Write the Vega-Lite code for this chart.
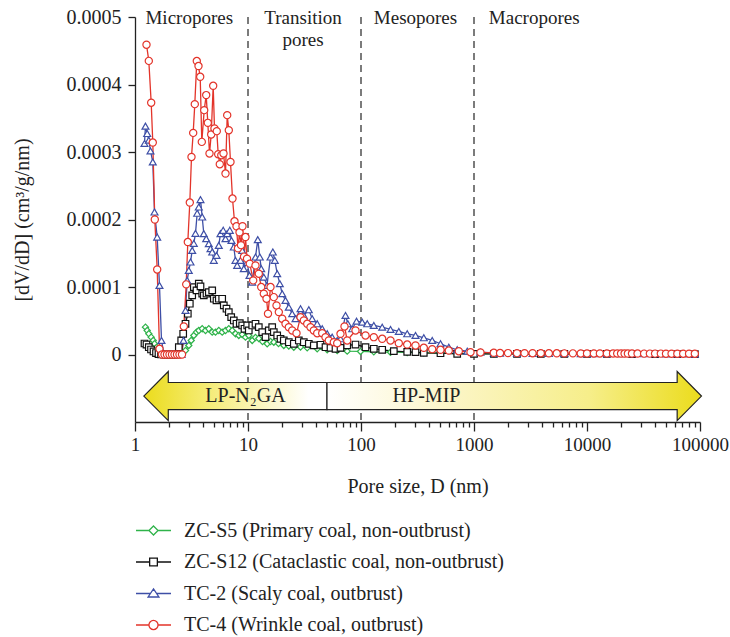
{
 "$schema": "https://vega.github.io/schema/vega-lite/v6.json",
 "width": 565,
 "height": 405,
 "autosize": {"type": "none"},
 "padding": {"left": 135, "top": 17, "right": 30, "bottom": 215},
 "background": "white",
 "config": {
  "view": {"stroke": null},
  "font": "Liberation Serif",
  "axis": {"domainColor": "#222", "tickColor": "#222", "labelColor": "#222", "titleColor": "#222", "labelFontSize": 19, "titleFontSize": 20, "titleFontWeight": "normal", "grid": false, "domainWidth": 1.3, "tickWidth": 1.3, "labelFont": "Liberation Serif", "titleFont": "Liberation Serif"},
  "text": {"font": "Liberation Serif", "color": "#222"}
 },
 "datasets": {
  "bounds": [{"D": 10}, {"D": 100}, {"D": 1000}],
  "arrowL": [
   {"D": 1.197, "v": -0.0000616, "v2": -0.0000616},
   {"D": 1.97, "v": -0.0000252, "v2": -0.0000979},
   {"D": 1.971, "v": -0.0000415, "v2": -0.0000816},
   {"D": 50, "v": -0.0000415, "v2": -0.0000816}
  ],
  "arrowR": [
   {"D": 50, "v": -0.0000415, "v2": -0.0000816},
   {"D": 62800, "v": -0.0000415, "v2": -0.0000816},
   {"D": 62810, "v": -0.0000252, "v2": -0.0000979},
   {"D": 103000, "v": -0.0000616, "v2": -0.0000616}
  ],
  "arrowText": [
   {"t": "LP-N₂GA", "D": 9.5, "v": -0.0000616},
   {"t": "HP-MIP", "D": 380, "v": -0.0000616}
  ],
  "regionsLeft": [
   {"t": "Micropores", "D": 1.238, "v": 0.00049},
   {"t": "Mesopores", "D": 129.8, "v": 0.00049},
   {"t": "Macropores", "D": 1352, "v": 0.00049}
  ],
  "regionsCenter": [
   {"t": "Transition\npores", "D": 30.7, "v": 0.00049}
  ],
  "curves": [
   {"s":"ZC-S5","D":1.238,"v":0.0000405},{"s":"ZC-S5","D":1.282,"v":0.0000356},{"s":"ZC-S5","D":1.325,"v":0.0000307},{"s":"ZC-S5","D":1.391,"v":0.0000257},{"s":"ZC-S5","D":1.449,"v":0.0000208},{"s":"ZC-S5","D":1.488,"v":0.0000159},{"s":"ZC-S5","D":1.55,"v":0.0000104},{"s":"ZC-S5","D":1.614,"v":0.0000059},{"s":"ZC-S5","D":1.682,"v":0.0000022},{"s":"ZC-S5","D":1.75,"v":0},{"s":"ZC-S5","D":1.82,"v":0},{"s":"ZC-S5","D":1.9,"v":0},{"s":"ZC-S5","D":1.98,"v":0},{"s":"ZC-S5","D":2.06,"v":0},{"s":"ZC-S5","D":2.15,"v":0},{"s":"ZC-S5","D":2.24,"v":0},{"s":"ZC-S5","D":2.33,"v":0},{"s":"ZC-S5","D":2.43,"v":0},{"s":"ZC-S5","D":2.52,"v":0},{"s":"ZC-S5","D":2.617,"v":0.000001},{"s":"ZC-S5","D":2.799,"v":0.0000059},{"s":"ZC-S5","D":2.993,"v":0.0000134},{"s":"ZC-S5","D":3.144,"v":0.0000208},{"s":"ZC-S5","D":3.315,"v":0.0000282},{"s":"ZC-S5","D":3.502,"v":0.0000331},{"s":"ZC-S5","D":3.669,"v":0.0000356},{"s":"ZC-S5","D":3.933,"v":0.0000381},{"s":"ZC-S5","D":4.206,"v":0.0000356},{"s":"ZC-S5","D":4.499,"v":0.0000381},{"s":"ZC-S5","D":4.822,"v":0.0000331},{"s":"ZC-S5","D":5.156,"v":0.0000331},{"s":"ZC-S5","D":5.515,"v":0.0000356},{"s":"ZC-S5","D":5.91,"v":0.0000331},{"s":"ZC-S5","D":6.323,"v":0.0000356},{"s":"ZC-S5","D":6.763,"v":0.0000381},{"s":"ZC-S5","D":7.247,"v":0.0000356},{"s":"ZC-S5","D":7.751,"v":0.0000307},{"s":"ZC-S5","D":8.289,"v":0.0000282},{"s":"ZC-S5","D":8.885,"v":0.0000297},{"s":"ZC-S5","D":9.5,"v":0.0000257},{"s":"ZC-S5","D":10.16,"v":0.0000282},{"s":"ZC-S5","D":10.9,"v":0.0000208},{"s":"ZC-S5","D":11.65,"v":0.0000252},{"s":"ZC-S5","D":12.46,"v":0.0000237},{"s":"ZC-S5","D":13.44,"v":0.0000193},{"s":"ZC-S5","D":14.79,"v":0.0000159},{"s":"ZC-S5","D":15.82,"v":0.0000193},{"s":"ZC-S5","D":16.92,"v":0.0000182},{"s":"ZC-S5","D":18.62,"v":0.0000163},{"s":"ZC-S5","D":20.74,"v":0.0000134},{"s":"ZC-S5","D":22.97,"v":0.0000126},{"s":"ZC-S5","D":25.43,"v":0.0000108},{"s":"ZC-S5","D":29.15,"v":0.0000111},{"s":"ZC-S5","D":33.41,"v":0.0000099},{"s":"ZC-S5","D":40.96,"v":0.0000085},{"s":"ZC-S5","D":50.22,"v":0.000007},{"s":"ZC-S5","D":61.58,"v":0.0000059},{"s":"ZC-S5","D":75.49,"v":0.0000049},{"s":"ZC-S5","D":99,"v":0.0000045},{"s":"ZC-S5","D":129.8,"v":0.000004},{"s":"ZC-S5","D":182.4,"v":0.0000034},{"s":"ZC-S5","D":256.4,"v":0.000003},{"s":"ZC-S5","D":359.5,"v":0.0000025},{"s":"ZC-S5","D":505.2,"v":0.000002},{"s":"ZC-S5","D":710,"v":0.0000015},{"s":"ZC-S5","D":1000,"v":0.0000012},{"s":"ZC-S5","D":1500,"v":0.000001},{"s":"ZC-S5","D":2400,"v":0.000001},{"s":"ZC-S5","D":3900,"v":0.0000009},{"s":"ZC-S5","D":6300,"v":0.0000009},{"s":"ZC-S5","D":10000,"v":0.0000008},{"s":"ZC-S5","D":15000,"v":0.0000008},{"s":"ZC-S5","D":25000,"v":0.0000008},{"s":"ZC-S5","D":40000,"v":0.0000007},{"s":"ZC-S5","D":63000,"v":0.0000007},{"s":"ZC-S5","D":90000,"v":0.0000007},
   {"s":"ZC-S12","D":1.213,"v":0.0000163},{"s":"ZC-S12","D":1.264,"v":0.0000148},{"s":"ZC-S12","D":1.325,"v":0.0000108},{"s":"ZC-S12","D":1.386,"v":0.0000074},{"s":"ZC-S12","D":1.458,"v":0.0000045},{"s":"ZC-S12","D":1.534,"v":0.0000022},{"s":"ZC-S12","D":1.614,"v":0.0000007},{"s":"ZC-S12","D":1.7,"v":0},{"s":"ZC-S12","D":1.8,"v":0},{"s":"ZC-S12","D":1.9,"v":0},{"s":"ZC-S12","D":2.0,"v":0},{"s":"ZC-S12","D":2.1,"v":0},{"s":"ZC-S12","D":2.2,"v":0},{"s":"ZC-S12","D":2.33,"v":0},{"s":"ZC-S12","D":2.442,"v":0.0000108},{"s":"ZC-S12","D":2.564,"v":0.0000208},{"s":"ZC-S12","D":2.67,"v":0.0000307},{"s":"ZC-S12","D":2.799,"v":0.0000455},{"s":"ZC-S12","D":2.933,"v":0.0000604},{"s":"ZC-S12","D":3.055,"v":0.0000752},{"s":"ZC-S12","D":3.208,"v":0.0000875},{"s":"ZC-S12","D":3.315,"v":0.0000999},{"s":"ZC-S12","D":3.502,"v":0.000095},{"s":"ZC-S12","D":3.669,"v":0.0001049},{"s":"ZC-S12","D":3.799,"v":0.0001009},{"s":"ZC-S12","D":3.933,"v":0.0000901},{"s":"ZC-S12","D":4.062,"v":0.0000875},{"s":"ZC-S12","D":4.293,"v":0.0000901},{"s":"ZC-S12","D":4.499,"v":0.0000924},{"s":"ZC-S12","D":4.822,"v":0.000095},{"s":"ZC-S12","D":4.982,"v":0.0000826},{"s":"ZC-S12","D":5.262,"v":0.0000801},{"s":"ZC-S12","D":5.515,"v":0.0000826},{"s":"ZC-S12","D":5.91,"v":0.0000826},{"s":"ZC-S12","D":6.106,"v":0.0000727},{"s":"ZC-S12","D":6.451,"v":0.0000678},{"s":"ZC-S12","D":6.763,"v":0.0000628},{"s":"ZC-S12","D":7.101,"v":0.0000553},{"s":"ZC-S12","D":7.487,"v":0.0000504},{"s":"ZC-S12","D":7.91,"v":0.0000455},{"s":"ZC-S12","D":8.461,"v":0.0000464},{"s":"ZC-S12","D":8.885,"v":0.000043},{"s":"ZC-S12","D":9.311,"v":0.0000381},{"s":"ZC-S12","D":9.838,"v":0.000043},{"s":"ZC-S12","D":10.16,"v":0.0000356},{"s":"ZC-S12","D":10.9,"v":0.000043},{"s":"ZC-S12","D":11.65,"v":0.0000455},{"s":"ZC-S12","D":12.46,"v":0.0000405},{"s":"ZC-S12","D":13.36,"v":0.0000331},{"s":"ZC-S12","D":14.29,"v":0.0000257},{"s":"ZC-S12","D":15.28,"v":0.0000356},{"s":"ZC-S12","D":16.37,"v":0.0000405},{"s":"ZC-S12","D":16.92,"v":0.0000331},{"s":"ZC-S12","D":18.13,"v":0.0000282},{"s":"ZC-S12","D":19.4,"v":0.0000233},{"s":"ZC-S12","D":20.74,"v":0.0000208},{"s":"ZC-S12","D":22.97,"v":0.0000182},{"s":"ZC-S12","D":25.43,"v":0.0000159},{"s":"ZC-S12","D":28.16,"v":0.0000208},{"s":"ZC-S12","D":31.18,"v":0.0000182},{"s":"ZC-S12","D":34.52,"v":0.0000159},{"s":"ZC-S12","D":38.22,"v":0.0000134},{"s":"ZC-S12","D":43.81,"v":0.0000144},{"s":"ZC-S12","D":48.51,"v":0.0000108},{"s":"ZC-S12","D":53.71,"v":0.0000099},{"s":"ZC-S12","D":59.47,"v":0.0000085},{"s":"ZC-S12","D":65.86,"v":0.0000099},{"s":"ZC-S12","D":75.49,"v":0.0000134},{"s":"ZC-S12","D":89.4,"v":0.0000148},{"s":"ZC-S12","D":109.6,"v":0.0000108},{"s":"ZC-S12","D":129.8,"v":0.0000085},{"s":"ZC-S12","D":154,"v":0.000007},{"s":"ZC-S12","D":195.2,"v":0.0000049},{"s":"ZC-S12","D":256.4,"v":0.000004},{"s":"ZC-S12","D":303.6,"v":0.0000034},{"s":"ZC-S12","D":359.5,"v":0.0000025},{"s":"ZC-S12","D":505.2,"v":0.0000019},{"s":"ZC-S12","D":710,"v":0.000001},{"s":"ZC-S12","D":1000,"v":0.000001},{"s":"ZC-S12","D":1500,"v":0.0000009},{"s":"ZC-S12","D":2400,"v":0.0000009},{"s":"ZC-S12","D":3900,"v":0.0000008},{"s":"ZC-S12","D":6300,"v":0.0000008},{"s":"ZC-S12","D":10000,"v":0.0000008},{"s":"ZC-S12","D":15000,"v":0.0000008},{"s":"ZC-S12","D":25000,"v":0.0000007},{"s":"ZC-S12","D":40000,"v":0.0000007},{"s":"ZC-S12","D":63000,"v":0.0000007},{"s":"ZC-S12","D":90000,"v":0.0000007},
   {"s":"TC-2","D":1.213,"v":0.0003126},{"s":"TC-2","D":1.238,"v":0.0003383},{"s":"TC-2","D":1.282,"v":0.0003274},{"s":"TC-2","D":1.325,"v":0.0003175},{"s":"TC-2","D":1.371,"v":0.0003016},{"s":"TC-2","D":1.437,"v":0.0002853},{"s":"TC-2","D":1.488,"v":0.0002111},{"s":"TC-2","D":1.572,"v":0.000174},{"s":"TC-2","D":1.647,"v":0.0001024},{"s":"TC-2","D":1.716,"v":0.0000208},{"s":"TC-2","D":1.805,"v":0},{"s":"TC-2","D":1.9,"v":0},{"s":"TC-2","D":2.0,"v":0},{"s":"TC-2","D":2.103,"v":0},{"s":"TC-2","D":2.214,"v":0},{"s":"TC-2","D":2.33,"v":0},{"s":"TC-2","D":2.452,"v":0},{"s":"TC-2","D":2.58,"v":0},{"s":"TC-2","D":2.687,"v":0.0000208},{"s":"TC-2","D":2.799,"v":0.0000653},{"s":"TC-2","D":2.897,"v":0.0001098},{"s":"TC-2","D":2.993,"v":0.0001246},{"s":"TC-2","D":3.099,"v":0.000137},{"s":"TC-2","D":3.208,"v":0.0001543},{"s":"TC-2","D":3.315,"v":0.0001647},{"s":"TC-2","D":3.43,"v":0.0001795},{"s":"TC-2","D":3.551,"v":0.0002092},{"s":"TC-2","D":3.669,"v":0.0002185},{"s":"TC-2","D":3.799,"v":0.0002295},{"s":"TC-2","D":3.933,"v":0.0002037},{"s":"TC-2","D":4.062,"v":0.0001791},{"s":"TC-2","D":4.267,"v":0.0001717},{"s":"TC-2","D":4.499,"v":0.0001642},{"s":"TC-2","D":4.657,"v":0.0001568},{"s":"TC-2","D":4.822,"v":0.0001518},{"s":"TC-2","D":4.982,"v":0.0001395},{"s":"TC-2","D":5.262,"v":0.0001469},{"s":"TC-2","D":5.515,"v":0.0001617},{"s":"TC-2","D":5.709,"v":0.0001791},{"s":"TC-2","D":6.033,"v":0.000184},{"s":"TC-2","D":6.323,"v":0.0001717},{"s":"TC-2","D":6.546,"v":0.0001791},{"s":"TC-2","D":6.9,"v":0.000184},{"s":"TC-2","D":7.145,"v":0.0001691},{"s":"TC-2","D":7.487,"v":0.0001592},{"s":"TC-2","D":7.751,"v":0.0001395},{"s":"TC-2","D":8.024,"v":0.000132},{"s":"TC-2","D":8.582,"v":0.0001395},{"s":"TC-2","D":8.885,"v":0.0001543},{"s":"TC-2","D":9.18,"v":0.0001272},{"s":"TC-2","D":9.8,"v":0.0001365},{"s":"TC-2","D":10.31,"v":0.0001172},{"s":"TC-2","D":10.9,"v":0.0001073},{"s":"TC-2","D":11.65,"v":0.0001444},{"s":"TC-2","D":12.21,"v":0.0001702},{"s":"TC-2","D":12.72,"v":0.0001444},{"s":"TC-2","D":13.09,"v":0.0001272},{"s":"TC-2","D":13.8,"v":0.0001147},{"s":"TC-2","D":14.73,"v":0.0001024},{"s":"TC-2","D":15.82,"v":0.0001444},{"s":"TC-2","D":16.58,"v":0.0001518},{"s":"TC-2","D":17.27,"v":0.0001395},{"s":"TC-2","D":18.13,"v":0.0001197},{"s":"TC-2","D":19.12,"v":0.0001049},{"s":"TC-2","D":20.08,"v":0.0000901},{"s":"TC-2","D":21.47,"v":0.0000801},{"s":"TC-2","D":22.97,"v":0.0000702},{"s":"TC-2","D":24.61,"v":0.0000604},{"s":"TC-2","D":26.33,"v":0.000053},{"s":"TC-2","D":29.15,"v":0.0000678},{"s":"TC-2","D":31.18,"v":0.0000579},{"s":"TC-2","D":34.52,"v":0.0000663},{"s":"TC-2","D":36.99,"v":0.000053},{"s":"TC-2","D":40.96,"v":0.0000455},{"s":"TC-2","D":45.36,"v":0.0000381},{"s":"TC-2","D":50.22,"v":0.0000307},{"s":"TC-2","D":55.62,"v":0.0000257},{"s":"TC-2","D":61.58,"v":0.0000208},{"s":"TC-2","D":65.86,"v":0.0000233},{"s":"TC-2","D":72.92,"v":0.0000579},{"s":"TC-2","D":76.42,"v":0.0000455},{"s":"TC-2","D":83.59,"v":0.0000381},{"s":"TC-2","D":91.26,"v":0.0000494},{"s":"TC-2","D":102.5,"v":0.0000479},{"s":"TC-2","D":113.5,"v":0.0000455},{"s":"TC-2","D":129.8,"v":0.000043},{"s":"TC-2","D":154,"v":0.0000405},{"s":"TC-2","D":182.4,"v":0.0000371},{"s":"TC-2","D":216,"v":0.0000341},{"s":"TC-2","D":256.4,"v":0.0000307},{"s":"TC-2","D":303.6,"v":0.0000282},{"s":"TC-2","D":359.5,"v":0.0000248},{"s":"TC-2","D":426.7,"v":0.0000208},{"s":"TC-2","D":505.2,"v":0.0000159},{"s":"TC-2","D":598.4,"v":0.0000108},{"s":"TC-2","D":710.1,"v":0.000007},{"s":"TC-2","D":870.9,"v":0.0000049},{"s":"TC-2","D":1141,"v":0.0000034},{"s":"TC-2","D":1497,"v":0.0000025},{"s":"TC-2","D":1700,"v":0.000002},{"s":"TC-2","D":2400,"v":0.0000018},{"s":"TC-2","D":3300,"v":0.0000017},{"s":"TC-2","D":4600,"v":0.0000016},{"s":"TC-2","D":6300,"v":0.0000015},{"s":"TC-2","D":8800,"v":0.0000014},{"s":"TC-2","D":11500,"v":0.0000013},{"s":"TC-2","D":15000,"v":0.0000013},{"s":"TC-2","D":20000,"v":0.0000012},{"s":"TC-2","D":25000,"v":0.0000012},{"s":"TC-2","D":32000,"v":0.0000011},{"s":"TC-2","D":40000,"v":0.0000011},{"s":"TC-2","D":50000,"v":0.000001},{"s":"TC-2","D":63000,"v":0.000001},{"s":"TC-2","D":80000,"v":0.000001},{"s":"TC-2","D":90000,"v":0.000001},
   {"s":"TC-4","D":1.264,"v":0.000459},{"s":"TC-4","D":1.325,"v":0.000435},{"s":"TC-4","D":1.391,"v":0.000373},{"s":"TC-4","D":1.437,"v":0.000314},{"s":"TC-4","D":1.497,"v":0.0002},{"s":"TC-4","D":1.572,"v":0.000126},{"s":"TC-4","D":1.647,"v":0.0000085},{"s":"TC-4","D":1.734,"v":0},{"s":"TC-4","D":1.824,"v":0},{"s":"TC-4","D":1.919,"v":0},{"s":"TC-4","D":2.02,"v":0},{"s":"TC-4","D":2.125,"v":0},{"s":"TC-4","D":2.237,"v":0},{"s":"TC-4","D":2.353,"v":0},{"s":"TC-4","D":2.476,"v":0},{"s":"TC-4","D":2.606,"v":0},{"s":"TC-4","D":2.704,"v":0.0000415},{"s":"TC-4","D":2.839,"v":0.0001039},{"s":"TC-4","D":2.933,"v":0.0001666},{"s":"TC-4","D":3.055,"v":0.0002251},{"s":"TC-4","D":3.162,"v":0.0002927},{"s":"TC-4","D":3.273,"v":0.0003283},{"s":"TC-4","D":3.382,"v":0.0003709},{"s":"TC-4","D":3.523,"v":0.0004347},{"s":"TC-4","D":3.647,"v":0.0004273},{"s":"TC-4","D":3.776,"v":0.0004114},{"s":"TC-4","D":3.901,"v":0.000315},{"s":"TC-4","D":4.097,"v":0.000362},{"s":"TC-4","D":4.267,"v":0.0003843},{"s":"TC-4","D":4.409,"v":0.0003432},{"s":"TC-4","D":4.564,"v":0.0002978},{"s":"TC-4","D":4.725,"v":0.000326},{"s":"TC-4","D":4.92,"v":0.0003981},{"s":"TC-4","D":5.052,"v":0.0003349},{"s":"TC-4","D":5.294,"v":0.0003309},{"s":"TC-4","D":5.448,"v":0.0002967},{"s":"TC-4","D":5.628,"v":0.0002819},{"s":"TC-4","D":5.8,"v":0.0002953},{"s":"TC-4","D":6.07,"v":0.0002978},{"s":"TC-4","D":6.323,"v":0.0002681},{"s":"TC-4","D":6.546,"v":0.0003546},{"s":"TC-4","D":6.763,"v":0.0003323},{"s":"TC-4","D":7.0,"v":0.0002853},{"s":"TC-4","D":7.291,"v":0.000231},{"s":"TC-4","D":7.594,"v":0.0001973},{"s":"TC-4","D":7.91,"v":0.0001899},{"s":"TC-4","D":8.154,"v":0.0001573},{"s":"TC-4","D":8.41,"v":0.000181},{"s":"TC-4","D":8.67,"v":0.000162},{"s":"TC-4","D":8.94,"v":0.00019},{"s":"TC-4","D":9.22,"v":0.000145},{"s":"TC-4","D":9.5,"v":0.000174},{"s":"TC-4","D":9.8,"v":0.000142},{"s":"TC-4","D":10.37,"v":0.0001346},{"s":"TC-4","D":11.12,"v":0.0001098},{"s":"TC-4","D":11.65,"v":0.000132},{"s":"TC-4","D":12.46,"v":0.0001197},{"s":"TC-4","D":13.09,"v":0.0000999},{"s":"TC-4","D":13.8,"v":0.0000901},{"s":"TC-4","D":14.58,"v":0.0000826},{"s":"TC-4","D":15.03,"v":0.0000604},{"s":"TC-4","D":15.82,"v":0.0000999},{"s":"TC-4","D":16.92,"v":0.000085},{"s":"TC-4","D":17.88,"v":0.0000727},{"s":"TC-4","D":18.74,"v":0.0000628},{"s":"TC-4","D":20.08,"v":0.000053},{"s":"TC-4","D":21.47,"v":0.0000455},{"s":"TC-4","D":22.97,"v":0.0000405},{"s":"TC-4","D":24.61,"v":0.0000356},{"s":"TC-4","D":26.87,"v":0.0000316},{"s":"TC-4","D":29.15,"v":0.0000553},{"s":"TC-4","D":31.18,"v":0.0000504},{"s":"TC-4","D":33.41,"v":0.0000455},{"s":"TC-4","D":35.73,"v":0.0000405},{"s":"TC-4","D":38.22,"v":0.0000356},{"s":"TC-4","D":40.96,"v":0.0000316},{"s":"TC-4","D":45.36,"v":0.0000316},{"s":"TC-4","D":48.51,"v":0.0000257},{"s":"TC-4","D":51.88,"v":0.0000208},{"s":"TC-4","D":57.45,"v":0.0000182},{"s":"TC-4","D":61.58,"v":0.0000168},{"s":"TC-4","D":65.86,"v":0.0000307},{"s":"TC-4","D":71.45,"v":0.0000415},{"s":"TC-4","D":75.49,"v":0.0000208},{"s":"TC-4","D":89.4,"v":0.0000356},{"s":"TC-4","D":109.6,"v":0.0000282},{"s":"TC-4","D":129.8,"v":0.0000257},{"s":"TC-4","D":154,"v":0.0000233},{"s":"TC-4","D":182.4,"v":0.0000208},{"s":"TC-4","D":216,"v":0.0000168},{"s":"TC-4","D":256.4,"v":0.0000148},{"s":"TC-4","D":303.6,"v":0.0000134},{"s":"TC-4","D":359.5,"v":0.0000099},{"s":"TC-4","D":426.7,"v":0.0000079},{"s":"TC-4","D":505.2,"v":0.000007},{"s":"TC-4","D":598.4,"v":0.0000059},{"s":"TC-4","D":733.8,"v":0.0000049},{"s":"TC-4","D":931,"v":0.0000034},{"s":"TC-4","D":1141,"v":0.000003},{"s":"TC-4","D":1497,"v":0.0000025},{"s":"TC-4","D":1700,"v":0.0000022},{"s":"TC-4","D":2000,"v":0.0000021},{"s":"TC-4","D":2400,"v":0.000002},{"s":"TC-4","D":2800,"v":0.000002},{"s":"TC-4","D":3300,"v":0.0000019},{"s":"TC-4","D":3900,"v":0.0000019},{"s":"TC-4","D":4600,"v":0.0000018},{"s":"TC-4","D":5400,"v":0.0000018},{"s":"TC-4","D":6300,"v":0.0000017},{"s":"TC-4","D":7500,"v":0.0000017},{"s":"TC-4","D":8800,"v":0.0000016},{"s":"TC-4","D":10000,"v":0.0000016},{"s":"TC-4","D":11500,"v":0.0000016},{"s":"TC-4","D":13000,"v":0.0000015},{"s":"TC-4","D":15000,"v":0.0000015},{"s":"TC-4","D":17000,"v":0.0000015},{"s":"TC-4","D":18500,"v":0.0000015},{"s":"TC-4","D":20000,"v":0.0000014},{"s":"TC-4","D":21500,"v":0.0000014},{"s":"TC-4","D":23000,"v":0.0000014},{"s":"TC-4","D":25000,"v":0.0000014},{"s":"TC-4","D":28000,"v":0.0000014},{"s":"TC-4","D":32000,"v":0.0000013},{"s":"TC-4","D":36000,"v":0.0000013},{"s":"TC-4","D":40000,"v":0.0000013},{"s":"TC-4","D":45000,"v":0.0000013},{"s":"TC-4","D":50000,"v":0.0000012},{"s":"TC-4","D":56000,"v":0.0000012},{"s":"TC-4","D":63000,"v":0.0000012},{"s":"TC-4","D":71000,"v":0.0000012},{"s":"TC-4","D":80000,"v":0.0000012},{"s":"TC-4","D":90000,"v":0.0000012}
  ]
 },
 "layer": [
  {
   "data": {"name": "bounds"},
   "mark": {"type": "rule", "strokeDash": [7, 5], "color": "#444", "strokeWidth": 1.4},
   "encoding": {
    "x": {"field": "D", "type": "quantitative", "scale": {"type": "log", "domain": [1, 100000]}, "axis": null}
   }
  },
  {
   "data": {"name": "arrowL"},
   "mark": {"type": "area", "orient": "vertical", "stroke": "#222", "strokeWidth": 1.2, "fill": {"gradient": "linear", "x1": 0, "y1": 0, "x2": 1, "y2": 0, "stops": [{"offset": 0, "color": "#ebdc1c"}, {"offset": 0.3, "color": "#f4ea6a"}, {"offset": 0.9, "color": "#ffffff"}, {"offset": 1, "color": "#ffffff"}]}},
   "encoding": {
    "x": {"field": "D", "type": "quantitative", "scale": {"type": "log", "domain": [1, 100000]}, "axis": null},
    "y": {"field": "v", "type": "quantitative", "scale": {"domain": [-0.0001, 0.0005], "nice": false}, "axis": null},
    "y2": {"field": "v2"}
   }
  },
  {
   "data": {"name": "arrowR"},
   "mark": {"type": "area", "orient": "vertical", "stroke": "#222", "strokeWidth": 1.2, "fill": {"gradient": "linear", "x1": 0, "y1": 0, "x2": 1, "y2": 0, "stops": [{"offset": 0, "color": "#ffffff"}, {"offset": 0.3, "color": "#fcf6cc"}, {"offset": 0.7, "color": "#f6ee8a"}, {"offset": 1, "color": "#ebdc1c"}]}},
   "encoding": {
    "x": {"field": "D", "type": "quantitative", "scale": {"type": "log", "domain": [1, 100000]}, "axis": null},
    "y": {"field": "v", "type": "quantitative", "scale": {"domain": [-0.0001, 0.0005], "nice": false}, "axis": null},
    "y2": {"field": "v2"}
   }
  },
  {
   "data": {"name": "arrowText"},
   "mark": {"type": "text", "fontSize": 20, "align": "center", "baseline": "middle", "color": "#222"},
   "encoding": {
    "x": {"field": "D", "type": "quantitative", "scale": {"type": "log", "domain": [1, 100000]}, "axis": null},
    "y": {"field": "v", "type": "quantitative", "scale": {"domain": [-0.0001, 0.0005], "nice": false}, "axis": null},
    "text": {"field": "t"}
   }
  },
  {
   "data": {"name": "curves"},
   "mark": {"type": "line", "strokeWidth": 1.3},
   "encoding": {
    "x": {"field": "D", "type": "quantitative", "scale": {"type": "log", "domain": [1, 100000]},
      "axis": {"orient": "bottom", "values": [1, 10, 100, 1000, 10000, 100000], "format": "d", "tickSize": 9, "labelPadding": 4, "labelFlush": false, "labelOverlap": false, "title": "Pore size, D (nm)", "titlePadding": 22}},
    "y": {"field": "v", "type": "quantitative", "scale": {"domain": [-0.0001, 0.0005], "nice": false},
      "axis": {"orient": "left", "values": [0, 0.0001, 0.0002, 0.0003, 0.0004, 0.0005], "format": ".4~f", "tickSize": 7, "labelPadding": 7, "labelFontSize": 20, "title": "[dV/dD] (cm³/g/nm)", "titlePadding": 34}},
    "color": {"field": "s", "type": "nominal", "scale": {"domain": ["ZC-S5", "ZC-S12", "TC-2", "TC-4"], "range": ["#2fb34a", "#111111", "#3e4fa6", "#e3342a"]}, "legend": null}
   }
  },
  {
   "data": {"name": "curves"},
   "mark": {"type": "point", "filled": false, "fill": "white", "strokeWidth": 1.2, "opacity": 1},
   "encoding": {
    "x": {"field": "D", "type": "quantitative", "scale": {"type": "log", "domain": [1, 100000]},
      "axis": {"orient": "bottom", "values": [2,3,4,5,6,7,8,9,20,30,40,50,60,70,80,90,200,300,400,500,600,700,800,900,2000,3000,4000,5000,6000,7000,8000,9000,20000,30000,40000,50000,60000,70000,80000,90000], "labels": false, "domain": false, "tickSize": 5, "title": null}},
    "y": {"field": "v", "type": "quantitative", "scale": {"domain": [-0.0001, 0.0005], "nice": false}, "axis": null},
    "color": {"field": "s", "type": "nominal", "legend": null},
    "shape": {"field": "s", "type": "nominal", "scale": {"domain": ["ZC-S5", "ZC-S12", "TC-2", "TC-4"], "range": ["diamond", "square", "triangle-up", "circle"]}, "legend": null},
    "size": {"field": "s", "type": "nominal", "scale": {"domain": ["ZC-S5", "ZC-S12", "TC-2", "TC-4"], "range": [38, 52, 60, 68]}, "legend": null}
   }
  },
  {
   "data": {"name": "curves"},
   "transform": [{"filter": "false"}],
   "mark": {"type": "point", "filled": false, "fill": "white", "strokeWidth": 1.3},
   "encoding": {
    "x": {"field": "D", "type": "quantitative", "scale": {"type": "log", "domain": [1, 100000]}, "axis": null},
    "y": {"field": "v", "type": "quantitative", "scale": {"domain": [-0.0001, 0.0005], "nice": false}, "axis": null},
    "color": {"field": "s", "type": "nominal",
      "legend": {"title": null, "orient": "none", "legendX": 0, "legendY": 495, "padding": 0, "symbolSize": 1225, "symbolStrokeWidth": 1.3, "symbolOpacity": 1, "symbolFillColor": "white", "labelFontSize": 20, "labelFont": "Liberation Serif", "labelColor": "#222", "labelOffset": 12, "rowPadding": 2.5, "labelLimit": 0,
        "labelExpr": "datum.label == 'ZC-S5' ? 'ZC-S5 (Primary coal, non-outbrust)' : datum.label == 'ZC-S12' ? 'ZC-S12 (Cataclastic coal, non-outbrust)' : datum.label == 'TC-2' ? 'TC-2 (Scaly coal, outbrust)' : 'TC-4 (Wrinkle coal, outbrust)'"}},
    "shape": {"field": "s", "type": "nominal",
      "scale": {"domain": ["ZC-S5", "ZC-S12", "TC-2", "TC-4"], "range": [
        "M-1,0L-0.26,0M0.26,0L1,0M0,-0.26L0.26,0L0,0.26L-0.26,0Z",
        "M-1,0L-0.22,0M0.22,0L1,0M-0.22,-0.22L0.22,-0.22L0.22,0.22L-0.22,0.22Z",
        "M-1,0L-0.175,0M0.175,0L1,0M0,-0.26L0.31,0.2L-0.31,0.2Z",
        "M-1,0L-0.26,0M0.26,0L1,0M0.26,0A0.26,0.26,0,1,1,-0.26,0A0.26,0.26,0,1,1,0.26,0Z"]},
      "legend": {"title": null, "orient": "none", "legendX": 0, "legendY": 495, "padding": 0, "symbolSize": 1225, "symbolStrokeWidth": 1.3, "symbolOpacity": 1, "symbolFillColor": "white", "labelFontSize": 20, "labelFont": "Liberation Serif", "labelColor": "#222", "labelOffset": 12, "rowPadding": 2.5, "labelLimit": 0,
        "labelExpr": "datum.label == 'ZC-S5' ? 'ZC-S5 (Primary coal, non-outbrust)' : datum.label == 'ZC-S12' ? 'ZC-S12 (Cataclastic coal, non-outbrust)' : datum.label == 'TC-2' ? 'TC-2 (Scaly coal, outbrust)' : 'TC-4 (Wrinkle coal, outbrust)'"}}
   }
  },
  {
   "data": {"name": "regionsLeft"},
   "mark": {"type": "text", "fontSize": 19, "align": "left", "baseline": "alphabetic", "color": "#222"},
   "encoding": {
    "x": {"field": "D", "type": "quantitative", "scale": {"type": "log", "domain": [1, 100000]}, "axis": null},
    "y": {"field": "v", "type": "quantitative", "scale": {"domain": [-0.0001, 0.0005], "nice": false}, "axis": null},
    "text": {"field": "t"}
   }
  },
  {
   "data": {"name": "regionsCenter"},
   "mark": {"type": "text", "fontSize": 19, "align": "center", "baseline": "alphabetic", "lineBreak": "\n", "lineHeight": 22, "color": "#222"},
   "encoding": {
    "x": {"field": "D", "type": "quantitative", "scale": {"type": "log", "domain": [1, 100000]}, "axis": null},
    "y": {"field": "v", "type": "quantitative", "scale": {"domain": [-0.0001, 0.0005], "nice": false}, "axis": null},
    "text": {"field": "t"}
   }
  }
 ],
 "resolve": {
  "scale": {"shape": "independent", "size": "independent"},
  "axis": {"x": "independent", "y": "independent"},
  "legend": {"shape": "independent", "color": "independent"}
 }
}
